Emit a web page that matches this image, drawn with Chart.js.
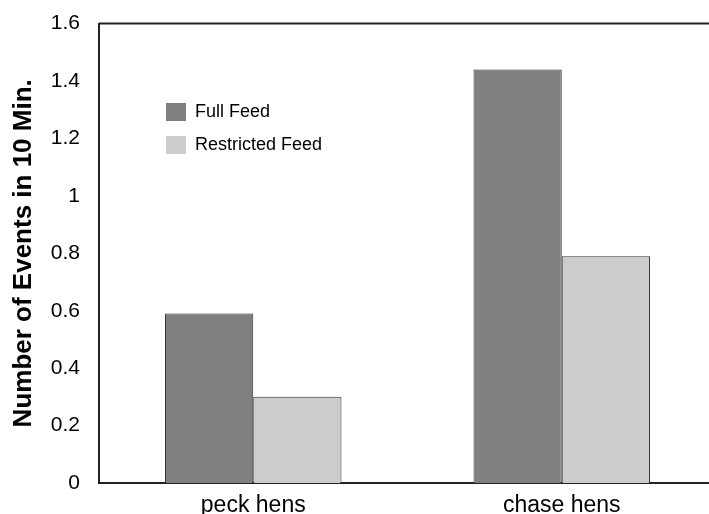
<!DOCTYPE html>
<html>
<head>
<meta charset="utf-8">
<script src="https://cdn.jsdelivr.net/npm/chart.js@4/dist/chart.umd.min.js"></script>
<style>
  html, body { margin: 0; padding: 0; background: #fff; overflow: hidden; }
  #wrap { width: 716px; height: 514px; }
</style>
</head>
<body>
<div id="wrap"><canvas id="chart"></canvas></div>
<script>
// data
const categories = ["peck hens", "chase hens"];
const fullFeed = [0.59, 1.44];
const restrictedFeed = [0.30, 0.79];
const seriesNames = ["Full Feed", "Restricted Feed"];
const seriesColors = ["#808080", "#cccccc"];
const yTicks = ["0", "0.2", "0.4", "0.6", "0.8", "1", "1.2", "1.4", "1.6"];

const FONT = "'Liberation Sans', Arial, sans-serif";

// legend sits inside the plot, top left
const boxLegend = {
  id: "boxLegend",
  afterDraw(chart) {
    const ctx = chart.ctx;
    ctx.save();
    chart.data.datasets.forEach((ds, i) => {
      const y = 103 + i * 33;
      ctx.fillStyle = ds.backgroundColor;
      ctx.fillRect(166, y, 20, 18);
      ctx.fillStyle = "#000";
      ctx.font = "18px " + FONT;
      ctx.textBaseline = "middle";
      ctx.fillText(ds.label, 195, y + 9);
    });
    ctx.restore();
  }
};

// top frame line
const topLine = {
  id: "topLine",
  afterDraw(chart) {
    const a = chart.chartArea, ctx = chart.ctx;
    ctx.save();
    ctx.strokeStyle = "#222";
    ctx.lineWidth = 2;
    ctx.beginPath();
    ctx.moveTo(a.left, a.top);
    ctx.lineTo(a.right, a.top);
    ctx.stroke();
    ctx.restore();
  }
};

new Chart(document.getElementById("chart"), {
  type: "bar",
  data: {
    labels: categories,
    datasets: [
      { label: seriesNames[0], data: fullFeed, backgroundColor: seriesColors[0] },
      { label: seriesNames[1], data: restrictedFeed, backgroundColor: seriesColors[1] }
    ]
  },
  options: {
    responsive: true,
    maintainAspectRatio: false,
    animation: false,
    layout: { padding: { top: 18, right: 0, bottom: 0, left: 0 } },
    datasets: {
      bar: {
        borderColor: "#333",
        borderWidth: 1,
        barPercentage: 1,
        categoryPercentage: 0.572
      }
    },
    plugins: {
      legend: { display: false },
      tooltip: { enabled: false }
    },
    scales: {
      x: {
        grid: { display: false },
        border: { color: "#222", width: 2 },
        ticks: { color: "#000", font: { family: FONT, size: 23 }, padding: 1 },
        afterFit: s => { s.height = 31; }
      },
      y: {
        min: 0,
        max: 1.6,
        ticks: {
          stepSize: 0.2,
          color: "#000",
          font: { family: FONT, size: 21 },
          padding: 11,
          callback: (v, i) => yTicks[i]
        },
        grid: { display: false },
        border: { color: "#222", width: 2 },
        title: {
          display: true,
          text: "Number of Events in 10 Min.",
          color: "#000",
          font: { family: FONT, size: 26, weight: "bold" },
          padding: { top: 8, bottom: 0 }
        },
        afterFit: s => { s.width = 99; }
      }
    }
  },
  plugins: [boxLegend, topLine]
});
</script>
</body>
</html>
